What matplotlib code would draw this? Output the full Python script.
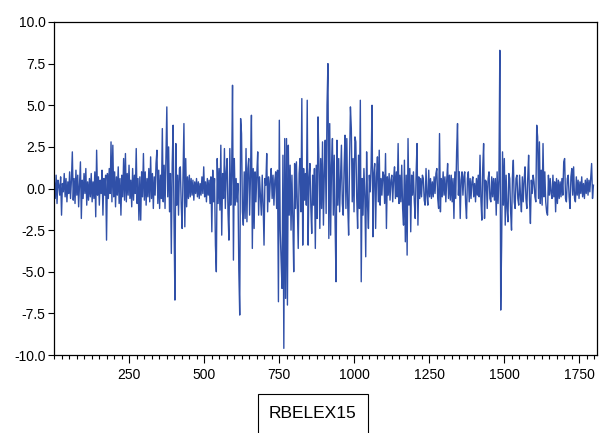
import numpy as np
import matplotlib.pyplot as plt
from matplotlib.patches import Rectangle
from matplotlib.ticker import MultipleLocator

plt.rcParams['font.family'] = ['Liberation Sans', 'DejaVu Sans']

rbelex15 = [
    0.4, -0.6, 0.8, -0.9, 0.5, 0.2, -0.4, 0.7, -1.6, 0.3, -0.2, 0.9, -0.5, 0.6, -0.8, 0.4, -0.3, 1.0, -0.6, 0.5,
    2.2, -0.7, 0.6, -0.9, 1.1, -0.4, 0.8, -1.1, 0.3, 1.6, -1.8, 0.5, -0.6, 0.9, -0.3, 1.2, -1.0, 0.4, -0.7, 0.6,
    -0.5, 0.9, -0.8, 0.4, -0.6, 1.0, -1.7, 2.3, -0.4, 0.7, -1.0, 0.5, -0.3, 1.1, -1.6, 0.6, -0.4, 0.8, -3.1, 0.9,
    -0.6, 1.2, -0.3, 2.8, -0.8, 2.6, -0.5, 1.0, -1.1, 0.7, -0.4, 1.3, -0.9, 0.6, -1.6, 0.8, -0.5, 1.8, -0.7, 2.1,
    -0.8, 0.9, -0.4, 1.4, -0.6, 0.5, -1.1, 1.2, -0.7, 0.8, -0.3, 2.4, -0.9, 0.6, -1.9, 0.7, -1.9, 1.0, -0.5, 2.1,
    -0.7, 1.0, -1.0, 0.6, -0.5, 1.2, -0.8, 1.9, -0.6, 0.9, -1.2, 0.7, -0.4, 1.5, 2.3, -0.9, 1.1, -1.2, 0.8, -0.6,
    3.6, -0.8, 1.4, -1.2, 1.8, 4.9, -0.5, 2.5, -1.4, 0.9, -3.9, 1.5, 3.8, -2.0, -6.7, 2.7, -1.0, 0.8, -1.6, 1.2,
    1.3, -1.0, -2.4, 0.9, 3.9, -2.3, 1.8, -1.1, 0.7, -0.6, 0.8, -0.5, 0.6, -0.4, 0.5, -0.7, 0.4, -0.3, 0.6, -0.5,
    0.4, -0.6, 0.3, -0.4, 0.7, -0.3, 1.3, -0.5, 0.4, -0.8, 0.6, -0.4, 0.5, -0.9, 0.7, -2.6, 1.1, -0.8, 0.6, -3.4,
    -5.0, 1.8, -0.9, 1.2, -1.3, 2.6, -2.8, 0.9, -0.6, 2.4, -1.2, 1.0, 1.8, -1.5, -3.1, 2.4, -1.0, 0.8, 6.2, -4.3,
    1.8, -1.0, 0.6, -0.8, 0.3, -4.9, -7.6, 4.2, 3.3, -1.4, -2.2, 1.0, -1.8, 2.4, -2.0, 1.2, 1.8, -1.6, 0.9, 4.4,
    -3.6, 1.2, -2.4, 1.0, -0.8, 0.9, 2.2, -1.6, 0.7, -0.5, -1.6, 0.8, -0.9, -3.4, 0.6, 0.2, 2.1, -1.4, 0.7, -0.8,
    0.5, 1.2, -0.6, 0.8, -1.0, 0.5, 1.0, -1.2, 1.1, -6.8, 4.1, -2.5, -4.4, -6.0, 2.0, -9.6, 3.0, -6.6, 3.0, -7.0,
    2.6, -1.6, 1.4, -2.5, 0.8, -1.8, -5.0, 1.5, -1.2, 1.6, -0.9, -3.6, 0.9, 1.8, -1.4, 5.4, -3.4, 1.2, -0.7, 0.9,
    -1.0, 5.3, -3.4, 0.6, 1.5, -1.1, -2.7, 0.8, -1.0, 1.2, -3.6, 1.4, -1.8, 4.3, 1.6, -2.4, 1.8, -1.2, 2.8, -2.2,
    0.9, 2.9, -1.5, 5.0, 7.5, -3.0, 3.9, -2.8, 1.4, 3.0, -1.6, 2.0, -2.2, -5.6, 2.9, -1.0, 1.8, -1.4, 0.7, 2.6,
    -0.9, -1.6, 1.3, 3.2, -1.2, 3.0, -1.0, -2.8, 1.5, 4.9, 3.6, -0.8, 1.8, -1.4, 3.1, 2.8, -0.6, -2.4, 2.0, -1.2,
    5.3, -5.6, 0.6, -1.6, 1.2, -0.4, -4.1, 2.2, -1.0, -2.4, 0.8, -0.2, 1.4, 5.0, -2.9, 0.9, 1.5, -2.4, 0.7, 1.9,
    -0.8, 2.3, -1.0, 0.6, -0.4, 1.0, 0.8, -0.9, 2.1, -2.4, 0.7, -0.4, 0.9, -0.7, 0.5, 0.8, -0.8, 0.6, 1.3, -0.6,
    1.0, -0.5, 2.7, -0.9, 0.8, -0.8, 1.4, -1.2, -2.2, 1.7, -3.2, 0.8, -4.0, 3.0, -1.0, 1.2, -2.6, 0.8, -0.4, 1.0,
    -0.8, -1.8, 0.9, 2.7, -2.2, 0.7, -0.6, 0.6, -0.5, 0.8, 0.6, -0.7, -1.0, 1.2, -0.4, -1.0, 1.1, -0.5, 0.6, -0.6,
    0.4, -0.5, 0.7, -0.3, 0.9, 1.2, -0.6, -1.2, 3.3, -1.4, 0.6, -0.5, 1.0, -0.4, 0.7, -0.8, 0.5, 1.5, -0.6, 0.8,
    -0.7, 0.8, -0.8, 0.6, -1.8, 1.0, -0.6, 2.2, 3.9, -0.4, 1.0, -1.8, 0.5, 1.0, -0.4, 0.7, 1.0, -0.9, -1.8, 0.6,
    1.0, -0.8, 0.6, -0.6, 0.4, 0.7, -0.5, 0.3, -0.8, 0.6, -0.4, 0.8, -0.5, 2.0, -0.7, -1.9, 1.2, 2.7, -1.8, 0.5,
    0.4, -1.2, 0.6, 1.0, -0.6, -0.8, 0.7, -0.5, 0.6, -0.7, 0.6, -1.6, 1.0, -0.9, 0.5, 8.3, -7.3, -3.4, 2.2, -1.0,
    1.8, -2.2, 0.8, -1.2, -2.0, 0.9, 0.6, -1.4, -2.5, 0.7, 1.7, -0.8, -1.2, 0.6, 0.8, -0.6, -1.0, 0.8, -0.5, -1.4,
    0.7, -0.8, 0.5, 1.3, -0.6, -1.2, 0.6, 2.0, -0.7, -2.1, 0.5, -0.3, 0.8, 0.4, -0.5, -0.8, 3.8, 3.1, -0.6, 2.8,
    -0.9, 1.1, -1.0, 2.7, -0.5, 1.0, -0.8, -1.4, -1.6, 0.8, -0.4, 0.6, -0.3, -0.6, 0.8, -0.5, 0.4, -1.4, 0.6, -0.9,
    0.5, -0.6, 0.4, -0.5, 0.6, -0.4, 1.6, 1.8, -0.6, -0.8, 0.6, 0.8, -0.5, -1.2, 0.7, 1.2, -0.4, 1.3, -0.6, -0.8,
    0.7, -0.4, 0.5, -0.6, 0.4, -0.3, 0.7, -0.5, 0.3, -0.6, 0.5, -0.3, 0.6, -0.4, 0.5, -0.2, 0.7, 1.5, -0.6, 0.2,
]
obs = np.arange(1, 1801, 3)
series_name = "RBELEX15"
xticks = [250, 500, 750, 1000, 1250, 1500, 1750]
yticks = [-10.0, -7.5, -5.0, -2.5, 0.0, 2.5, 5.0, 7.5, 10.0]

fig = plt.figure(figsize=(5.99, 4.33), dpi=100)
ax = fig.add_axes([0.0902, 0.1801, 0.9060, 0.7691])
ax.plot(obs, rbelex15, color='#3050A8', linewidth=1.0)

ax.set_xlim(0, 1809)
ax.set_ylim(-10, 10)
ax.set_xticks(xticks)
ax.xaxis.set_minor_locator(MultipleLocator(25))
ax.set_yticks(yticks)
ax.set_yticklabels([f"{v:.1f}" for v in yticks])
ax.tick_params(axis='x', which='major', direction='out', length=6, width=0.8, labelsize=10, pad=3)
ax.tick_params(axis='x', which='minor', direction='out', length=3, width=0.8)
ax.tick_params(axis='y', which='major', direction='out', length=4, width=0.8, labelsize=10, pad=2)
for s in ax.spines.values():
    s.set_linewidth(0.9)

# legend box at the bottom
fig.patches.append(Rectangle((0.4307, -0.05), 0.1837, 0.1401, transform=fig.transFigure,
                             facecolor='white', edgecolor='black', linewidth=0.8))
fig.text(0.5225, 0.044, series_name, ha='center', va='center', fontsize=12.5)

fig.savefig('out.png', dpi=100)
